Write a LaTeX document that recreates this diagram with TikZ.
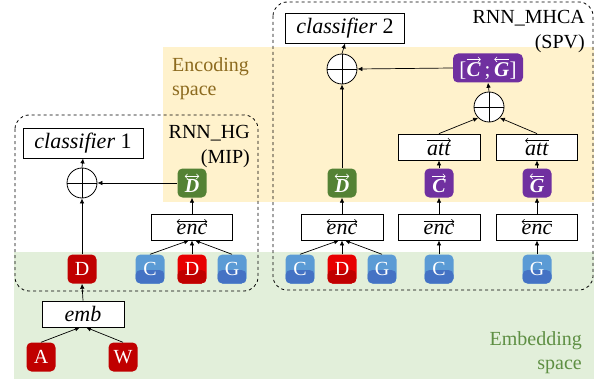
\documentclass[tikz,border=0pt]{standalone}
\usepackage{fontspec}
\setmainfont{Liberation Serif}
\usetikzlibrary{arrows.meta}
\definecolor{myred}{HTML}{C00000}
\definecolor{brightred}{HTML}{E80000}
\definecolor{lblue}{HTML}{5B9BD5}
\definecolor{dblue}{HTML}{4472C4}
\definecolor{mygreen}{HTML}{548235}
\definecolor{mypurple}{HTML}{7030A0}
\definecolor{encbg}{HTML}{FFF2CC}
\definecolor{embbg}{HTML}{E2EFDA}
\definecolor{enctext}{HTML}{8C6A1E}
\definecolor{embtext}{HTML}{5E8F43}
% arrow over a text: #1 tips, #2 colour, #3 text
\newcommand\ovarr[3]{\begin{tikzpicture}[baseline=(t.base), >={Straight Barb[length=2.4pt,width=5pt]}]\node[inner sep=0pt, outer sep=0pt, draw=none, fill=none, rounded corners=0pt, minimum size=0pt, path picture={}] (t) {#3};\draw[#1, draw=#2, line width=0.6pt] ([yshift=2.8pt]t.north west) -- ([yshift=2.8pt]t.north east);\end{tikzpicture}}
\begin{document}
\begin{tikzpicture}[x=1pt,y=-1pt,
  tok/.style={rounded corners=5pt, minimum width=29pt, minimum height=29pt, inner sep=0pt, text=white, font=\fontsize{20}{21}\selectfont},
  solidtok/.style={tok, fill=#1},
  twotok/.style 2 args={tok, fill=#1, path picture={\fill[#2] ([yshift=-1pt]path picture bounding box.west) rectangle (path picture bounding box.south east);}},
  mathtok/.style={tok, fill=#1, font=\fontsize{20}{21}\selectfont\bfseries\itshape},
  box/.style={draw, line width=0.8pt, fill=white, inner sep=0pt, minimum height=26pt, font=\fontsize{22}{23}\selectfont},
  op/.style={draw, line width=0.8pt, circle, fill=white, minimum size=30pt, inner sep=0pt, path picture={\draw[line width=0.8pt] (path picture bounding box.north) -- (path picture bounding box.south) (path picture bounding box.west) -- (path picture bounding box.east);}},
  arr/.style={-{Latex[length=5pt,width=4.5pt]}, line width=0.7pt},
  region/.style={dashed, line width=0.8pt, rounded corners=14pt},
  lab/.style={font=\fontsize{20}{22}\selectfont, inner sep=0pt}
]
\useasboundingbox (0,0) rectangle (602,385);
% backgrounds
\fill[embbg] (14,252) rectangle (594,379);
\fill[encbg] (163,47) rectangle (594,202);
% region boxes
\draw[region] (15,115) rectangle (258,291);
\draw[region] (273,2) rectangle (593,290);
% labels
\node[lab, anchor=base east] (l1a) at (250,139) {RNN\_HG};
\node[lab, anchor=base east] (l1b) at (250,163) {(MIP)};
\node[lab, anchor=base east] (l2a) at (585,24) {RNN\_MHCA};
\node[lab, anchor=base east] (l2b) at (585,49) {(SPV)};
\node[lab, anchor=base west, text=enctext] (e1) at (172,72) {Encoding};
\node[lab, anchor=base west, text=enctext] (e2) at (172,96) {space};
\node[lab, anchor=base east, text=embtext] (m1) at (582,345) {Embedding};
\node[lab, anchor=base east, text=embtext] (m2) at (582,369) {space};
% left part
\node[box, minimum width=120pt, minimum height=30pt] (cls1) at (83,143) {\textit{classifier} 1};
\node[op] (opL) at (82,183) {};
\node[mathtok=mygreen] (Dg1) at (192,183) {\ovarr{<->}{white}{D}};
\node[box, minimum width=81pt] (enc1) at (192,227) {\ovarr{<->}{black}{\textit{enc}}};
\node[twotok={lblue}{dblue}] (c1) at (150,269) {C};
\node[twotok={brightred}{myred}] (d1) at (192,269) {D};
\node[twotok={lblue}{dblue}] (g1) at (232,269) {G};
\node[solidtok=myred] (dL) at (82,269) {D};
\node[box, minimum width=82pt] (emb) at (83,314) {\textit{emb}};
\node[solidtok=myred] (a) at (41,357) {A};
\node[solidtok=myred] (w) at (123,357) {W};
% right part
\node[box, minimum width=119pt, minimum height=30pt] (cls2) at (345,28) {\textit{classifier} 2};
\node[op] (opT) at (342,69) {};
\node[mathtok=mypurple, minimum width=70pt, font=\fontsize{21}{22}\selectfont] (cg) at (488,68) {[\ovarr{->}{white}{\textbf{\textit{C}}}\,;\,\ovarr{<-}{white}{\textbf{\textit{G}}}]};
\node[op] (opM) at (489,107) {};
\node[box, minimum width=82pt] (att1) at (439,147) {\ovarr{->}{black}{\textit{att}}};
\node[box, minimum width=81pt] (att2) at (537,147) {\ovarr{<-}{black}{\textit{att}}};
\node[mathtok=mygreen] (Dg2) at (342,183) {\ovarr{<->}{white}{D}};
\node[mathtok=mypurple] (Cp) at (439,183) {\ovarr{->}{white}{C}};
\node[mathtok=mypurple] (Gp) at (537,183) {\ovarr{<-}{white}{G}};
\node[box, minimum width=82pt] (enc2) at (342,227) {\ovarr{<->}{black}{\textit{enc}}};
\node[box, minimum width=82pt] (enc3) at (439,227) {\ovarr{->}{black}{\textit{enc}}};
\node[box, minimum width=81pt] (enc4) at (537,227) {\ovarr{<-}{black}{\textit{enc}}};
\node[twotok={lblue}{dblue}] (c2) at (300,269) {C};
\node[twotok={brightred}{myred}] (d2) at (342,269) {D};
\node[twotok={lblue}{dblue}] (g2) at (382,269) {G};
\node[twotok={lblue}{dblue}] (c3) at (439,269) {C};
\node[twotok={lblue}{dblue}] (g3) at (537,269) {G};
% left arrows
\draw[arr] (dL.north) -- (opL.south);
\draw[arr] (opL.north) -- (cls1.south);
\draw[arr] (Dg1.west) -- (opL.east);
\draw[arr] (enc1.north) -- (Dg1.south);
\draw[arr] (c1.north) -- ([xshift=-3pt]enc1.south);
\draw[arr] (d1.north) -- (enc1.south);
\draw[arr] (g1.north) -- ([xshift=3pt]enc1.south);
\draw[arr] (emb.north) -- (dL.south);
\draw[arr] (a.north) -- ([xshift=-3pt]emb.south);
\draw[arr] (w.north) -- ([xshift=3pt]emb.south);
% right arrows
\draw[arr] (Dg2.north) -- (opT.south);
\draw[arr] (opT.north) -- (cls2.south);
\draw[arr] (cg.west) -- (opT.east);
\draw[arr] (opM.north) -- (cg.south);
\draw[arr] (att1.north) -- (opM.south west);
\draw[arr] (att2.north) -- (opM.south east);
\draw[arr] (Cp.north) -- (att1.south);
\draw[arr] (Gp.north) -- (att2.south);
\draw[arr] (enc2.north) -- (Dg2.south);
\draw[arr] (enc3.north) -- (Cp.south);
\draw[arr] (enc4.north) -- (Gp.south);
\draw[arr] (c2.north) -- ([xshift=-3pt]enc2.south);
\draw[arr] (d2.north) -- (enc2.south);
\draw[arr] (g2.north) -- ([xshift=3pt]enc2.south);
\draw[arr] (c3.north) -- (enc3.south);
\draw[arr] (g3.north) -- (enc4.south);
\end{tikzpicture}
\end{document}
